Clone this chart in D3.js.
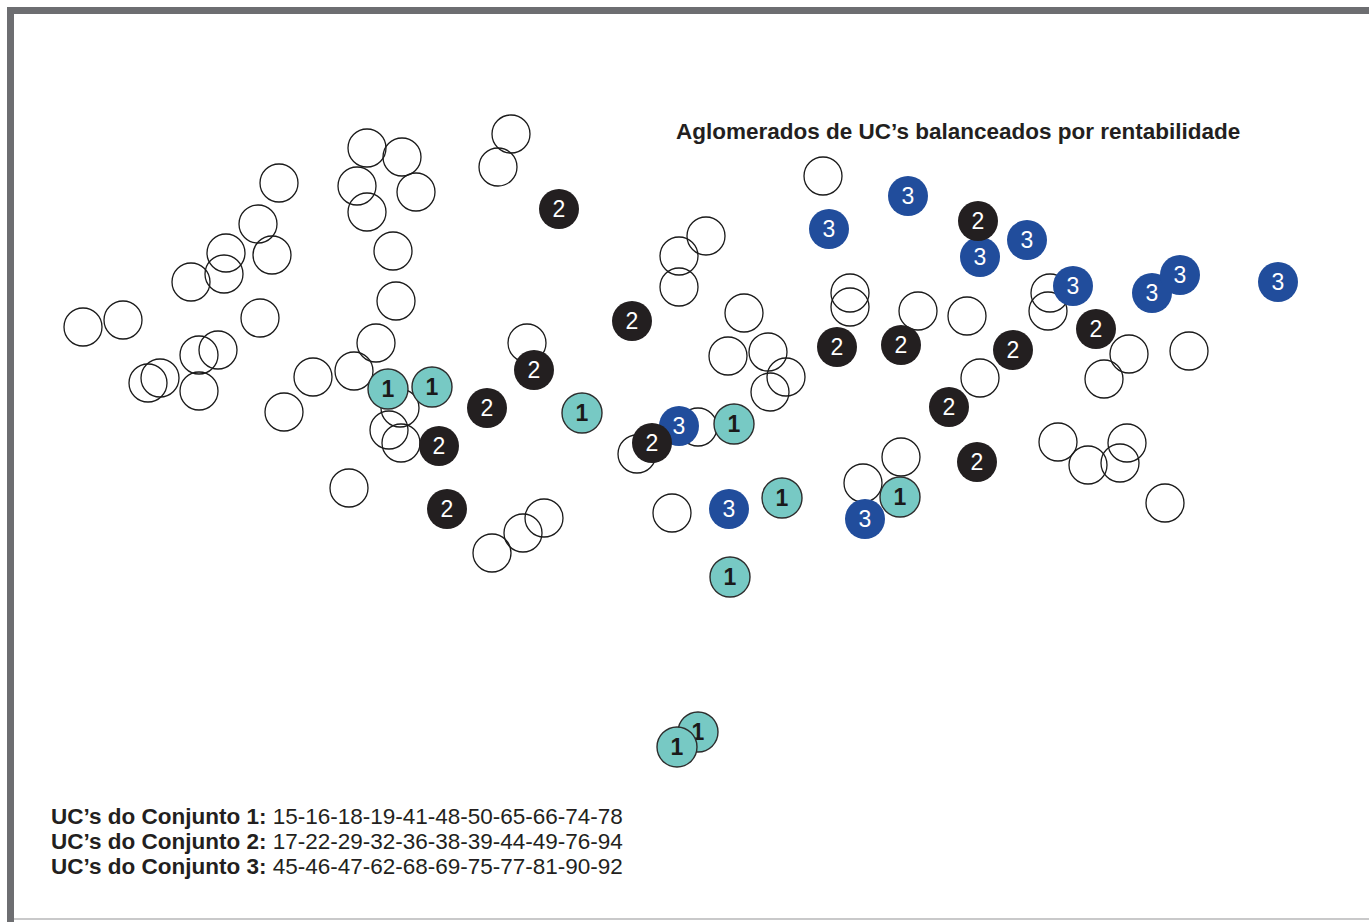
<!DOCTYPE html>
<html>
<head>
<meta charset="utf-8">
<script src="https://cdn.jsdelivr.net/npm/d3@7"></script>
<style>
  body { margin: 0; background: #ffffff; }
  svg { display: block; font-family: "Liberation Sans", Arial, sans-serif; }
</style>
</head>
<body>
<div id="chart"></div>
<script>
// coordinates of each UC on the map (abstract units)
let otherUCs = [
  [42.8, 61.6], [41.5, 58.3], [28.4, 60.2], [31.9, 59.3], [27.4, 56.4],
  [28.4, 53.8], [33.3, 55.8], [19.6, 56.7], [17.5, 52.6], [14.3, 49.7],
  [18.9, 49.5], [10.8, 46.8], [14.1, 47.6], [31.0, 49.9], [31.3, 44.9],
  [17.7, 43.2], [0.0, 42.3], [4.0, 43.0], [29.3, 40.7], [13.5, 40.0],
  [11.6, 39.5], [6.5, 36.7], [7.7, 37.2], [11.6, 35.9], [23.0, 37.3],
  [27.1, 37.9], [20.1, 33.8], [31.7, 34.2], [30.6, 32.0], [31.8, 30.7],
  [26.6, 26.2], [44.4, 40.7], [62.3, 51.4], [59.6, 49.4], [59.6, 46.3],
  [66.1, 43.7], [64.5, 39.4], [68.5, 39.8], [70.3, 37.3], [68.7, 35.8],
  [61.5, 32.3], [55.4, 29.6], [58.9, 23.7], [46.1, 23.2], [44.0, 21.7],
  [40.9, 19.7], [74.0, 57.4], [76.7, 45.7], [76.7, 44.3], [78.0, 26.7],
  [81.8, 29.3], [83.5, 43.9], [88.4, 43.4], [96.7, 45.7], [96.5, 43.9],
  [104.6, 39.6], [102.1, 37.1], [110.6, 39.9], [89.7, 37.2], [97.5, 30.8],
  [100.5, 28.5], [104.4, 30.7], [103.7, 28.7], [108.2, 24.7]
];

let conjunto1 = [
  [30.5, 36.1], [34.9, 36.3], [49.9, 33.7], [65.1, 32.6], [69.9, 25.2],
  [81.7, 25.3], [64.7, 17.3], [61.5, 1.8], [59.4, 0.3]
];

let conjunto3 = [
  [74.6, 52.1], [82.5, 55.4], [89.7, 49.3], [94.4, 51.0], [99.0, 46.4],
  [106.9, 45.7], [109.7, 47.5], [119.5, 46.8], [59.6, 32.4], [64.6, 24.1],
  [78.2, 23.1]
];

let conjunto2 = [
  [47.6, 54.1], [54.9, 42.9], [45.1, 38.0], [40.4, 34.2], [35.6, 30.4],
  [36.4, 24.1], [56.9, 30.7], [75.4, 40.3], [81.8, 40.5], [89.5, 52.9],
  [93.0, 40.0], [101.3, 42.1], [86.6, 34.3], [89.4, 28.8]
];

let title = "Aglomerados de UC\u2019s balanceados por rentabilidade";
let setNames = ["UC\u2019s do Conjunto 1:", "UC\u2019s do Conjunto 2:", "UC\u2019s do Conjunto 3:"];
let setMembers = [
  ["15", "16", "18", "19", "41", "48", "50", "65", "66", "74", "78"],
  ["17", "22", "29", "32", "36", "38", "39", "44", "49", "76", "94"],
  ["45", "46", "47", "62", "68", "69", "75", "77", "81", "90", "92"]
];

let width = 1369;
let height = 922;

let svg = d3.select("#chart").append("svg")
  .attr("width", width)
  .attr("height", height);

// frame
svg.append("rect")
  .attr("x", 7).attr("y", 7)
  .attr("width", width - 7).attr("height", 7)
  .attr("fill", "#6d6e71");
svg.append("rect")
  .attr("x", 7).attr("y", 7)
  .attr("width", 7).attr("height", height - 7)
  .attr("fill", "#6d6e71");
svg.append("rect")
  .attr("x", 14).attr("y", 918)
  .attr("width", width - 14).attr("height", 2)
  .attr("fill", "#c9c9ca");

let xScale = d3.scaleLinear()
  .domain([0, 120])
  .range([83, 1283]);
let yScale = d3.scaleLinear()
  .domain([0, 62])
  .range([750, 130]);

let emptyRadius = 19;
let filledRadius = 20;

svg.append("g").selectAll("circle")
  .data(otherUCs)
  .enter().append("circle")
  .attr("cx", (d) => xScale(d[0]))
  .attr("cy", (d) => yScale(d[1]))
  .attr("r", emptyRadius)
  .attr("fill", "none")
  .attr("stroke", "#1a1a1a")
  .attr("stroke-width", 1.3);

let groups = [
  { data: conjunto1, label: "1", fill: "#77c9c4", stroke: "#2d2d2d", text: "#1a1a1a", weight: "bold" },
  { data: conjunto3, label: "3", fill: "#214d9c", stroke: "none", text: "#ffffff", weight: "normal" },
  { data: conjunto2, label: "2", fill: "#231f20", stroke: "none", text: "#ffffff", weight: "normal" }
];

groups.forEach((grp) => {
  let g = svg.append("g").selectAll("g")
    .data(grp.data)
    .enter().append("g")
    .attr("transform", (d) => `translate(${xScale(d[0])}, ${yScale(d[1])})`);
  g.append("circle")
    .attr("r", filledRadius)
    .attr("fill", grp.fill)
    .attr("stroke", grp.stroke)
    .attr("stroke-width", 1.4);
  g.append("text")
    .text(grp.label)
    .attr("text-anchor", "middle")
    .attr("dy", "0.36em")
    .attr("fill", grp.text)
    .style("font-size", "23px")
    .style("font-weight", grp.weight);
});

// title
svg.append("text")
  .text(title)
  .attr("x", 676)
  .attr("y", 139)
  .attr("fill", "#231f20")
  .style("font-size", "22.5px")
  .style("font-weight", "bold");

// sets listed at the bottom
let legend = svg.append("g").selectAll("text")
  .data(setNames)
  .enter().append("text")
  .attr("x", 51)
  .attr("y", (d, i) => 824 + i * 25)
  .attr("fill", "#231f20")
  .style("font-size", "22.5px");
legend.append("tspan")
  .style("font-weight", "bold")
  .text((d) => d);
legend.append("tspan")
  .text((d, i) => " " + setMembers[i].join("-"));
</script>
</body>
</html>
